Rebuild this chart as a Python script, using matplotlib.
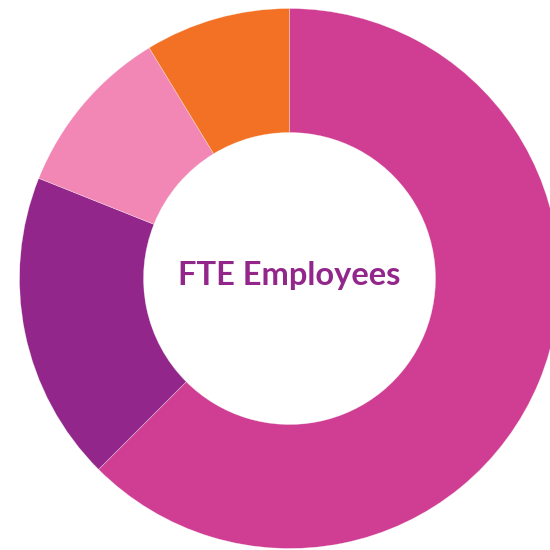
import matplotlib
matplotlib.use("Agg")
import matplotlib.pyplot as plt

categories = ["Group A", "Group B", "Group C", "Group D"]
values = [62.5, 18.55, 10.25, 8.7]
colors = ["#CF3E93", "#92268B", "#F287B5", "#F37124"]
center_label = "FTE Employees"

fig = plt.figure(figsize=(5.5, 5.5), dpi=100)
ax = fig.add_axes([0, 0, 1, 1])
ax.pie(values, colors=colors, startangle=90, counterclock=False,
       center=(289.5, 271.5), radius=270,
       wedgeprops=dict(width=124, linewidth=0.4, edgecolor="#ffffff80"))
ax.set_xlim(0, 550)
ax.set_ylim(0, 550)
ax.set_aspect("equal")
ax.axis("off")
ax.text(289.5, 265.5, center_label, ha="center", va="baseline",
        fontsize=23.5, fontweight="bold", color="#92268B", family=["Lato", "DejaVu Sans"])
fig.savefig("out.png", dpi=100)
